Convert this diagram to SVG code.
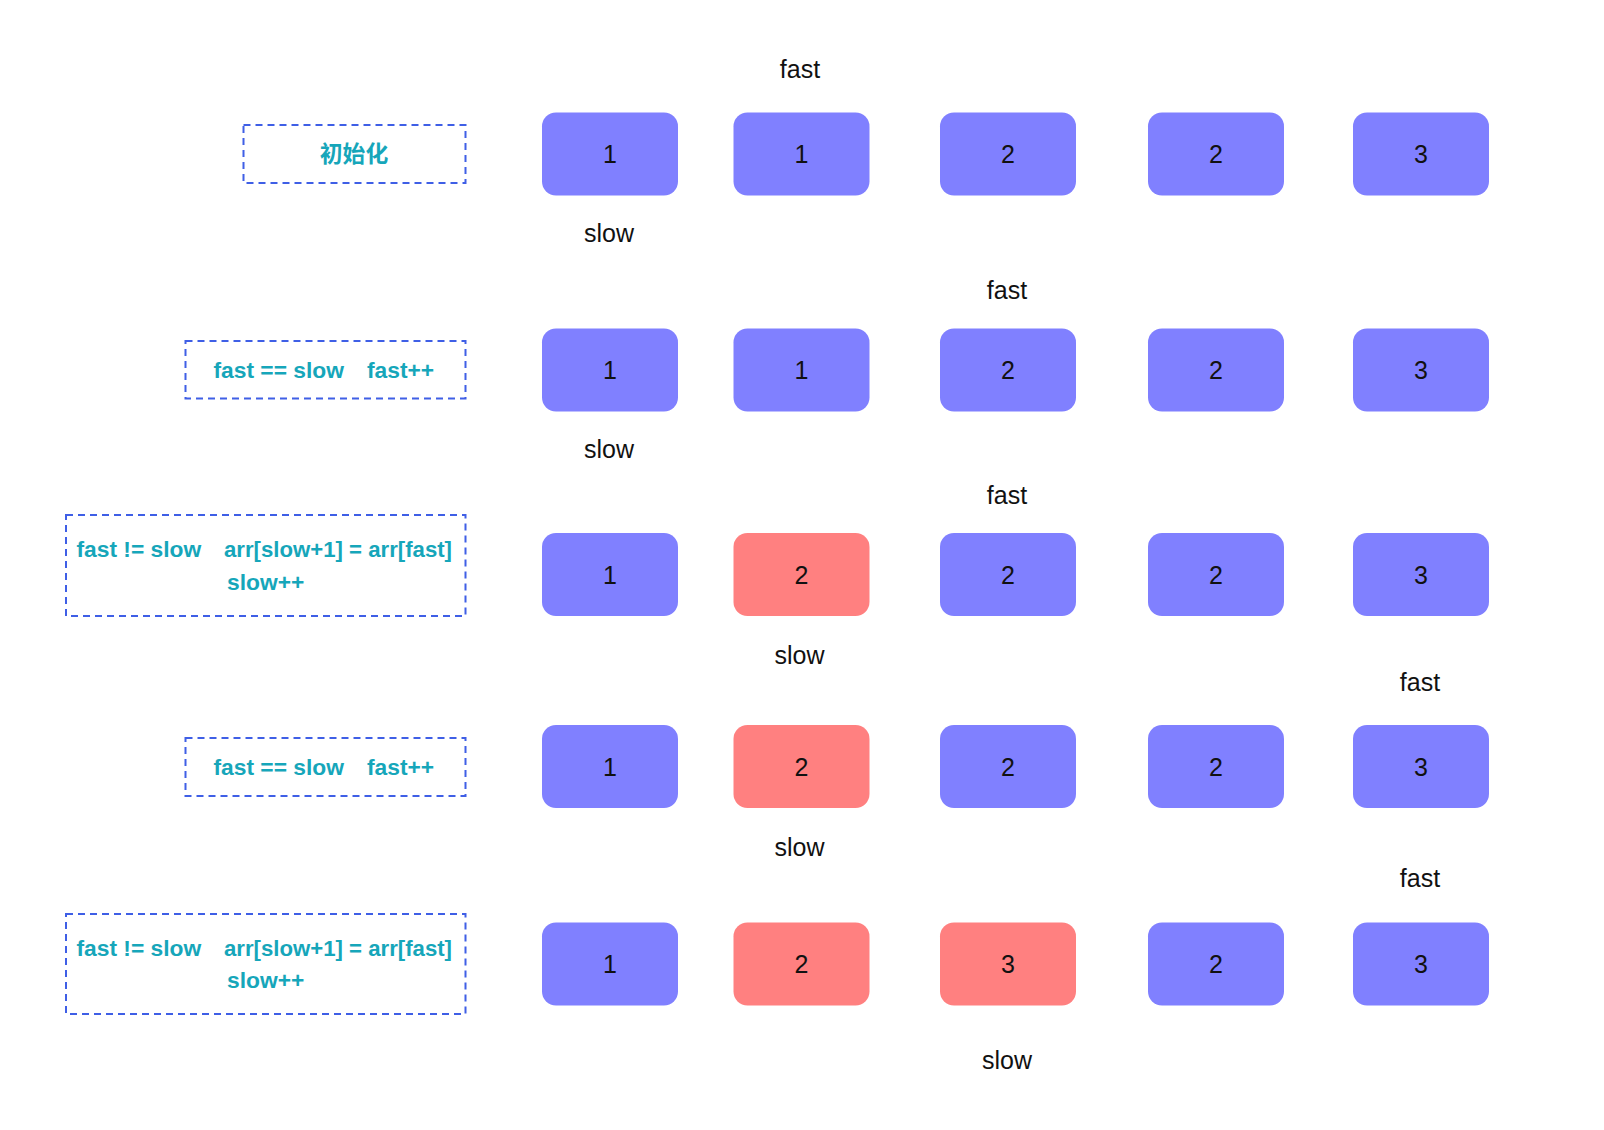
<svg xmlns="http://www.w3.org/2000/svg" width="1604" height="1130" viewBox="0 0 1604 1130">
<style>
.cell{stroke:none;}
.b{fill:#8080FF;}
.r{fill:#FF8080;}
.num{font-family:"Liberation Sans",Arial,sans-serif;font-size:25px;fill:#111;text-anchor:middle;dominant-baseline:central;}
.lbl{font-family:"Liberation Sans",Arial,sans-serif;font-size:25px;fill:#111;text-anchor:middle;dominant-baseline:central;}
.note{fill:none;stroke:#3F5FE6;stroke-width:2;stroke-dasharray:7 5;}
.nt{font-family:"Liberation Sans",Arial,"Noto Sans CJK SC",sans-serif;font-size:22.8px;font-weight:bold;fill:#16A6BA;dominant-baseline:central;white-space:pre;}
</style>
<defs>
<rect id="cell" width="136" height="83" rx="14" ry="14"/>
</defs>
<rect width="1604" height="1130" fill="#fff"/>
<g id="connectors"></g>

<!-- Row 1 -->
<g id="note1"><rect class="note" x="243.5" y="125" width="222" height="58"/><text class="nt" x="354" y="153.5" text-anchor="middle">初始化</text></g>
<g id="r1c1"><use href="#cell" class="b" x="542" y="112.5"/><text class="num" x="610" y="154">1</text></g>
<g id="r1c2"><use href="#cell" class="b" x="733.5" y="112.5"/><text class="num" x="801.5" y="154">1</text></g>
<g id="r1c3"><use href="#cell" class="b" x="940" y="112.5"/><text class="num" x="1008" y="154">2</text></g>
<g id="r1c4"><use href="#cell" class="b" x="1148" y="112.5"/><text class="num" x="1216" y="154">2</text></g>
<g id="r1c5"><use href="#cell" class="b" x="1353" y="112.5"/><text class="num" x="1421" y="154">3</text></g>
<g id="r1fast"><text class="lbl" x="800" y="68.5">fast</text></g>
<g id="r1slow"><text class="lbl" x="609" y="232.5">slow</text></g>

<!-- Row 2 -->
<g id="note2"><rect class="note" x="185.5" y="341" width="280" height="57.5"/><text class="nt" x="213.5" y="369.5">fast == slow</text><text class="nt" x="367" y="369.5">fast++</text></g>
<g id="r2c1"><use href="#cell" class="b" x="542" y="328.5"/><text class="num" x="610" y="370">1</text></g>
<g id="r2c2"><use href="#cell" class="b" x="733.5" y="328.5"/><text class="num" x="801.5" y="370">1</text></g>
<g id="r2c3"><use href="#cell" class="b" x="940" y="328.5"/><text class="num" x="1008" y="370">2</text></g>
<g id="r2c4"><use href="#cell" class="b" x="1148" y="328.5"/><text class="num" x="1216" y="370">2</text></g>
<g id="r2c5"><use href="#cell" class="b" x="1353" y="328.5"/><text class="num" x="1421" y="370">3</text></g>
<g id="r2fast"><text class="lbl" x="1007" y="289.5">fast</text></g>
<g id="r2slow"><text class="lbl" x="609" y="448.5">slow</text></g>

<!-- Row 3 -->
<g id="note3"><rect class="note" x="66" y="515" width="399.5" height="101"/><text class="nt" x="76.5" y="549">fast != slow</text><text class="nt" x="224" y="549" textLength="228" lengthAdjust="spacingAndGlyphs">arr[slow+1] = arr[fast]</text><text class="nt" x="227" y="581.5">slow++</text></g>
<g id="r3c1"><use href="#cell" class="b" x="542" y="533"/><text class="num" x="610" y="574.5">1</text></g>
<g id="r3c2"><use href="#cell" class="r" x="733.5" y="533"/><text class="num" x="801.5" y="574.5">2</text></g>
<g id="r3c3"><use href="#cell" class="b" x="940" y="533"/><text class="num" x="1008" y="574.5">2</text></g>
<g id="r3c4"><use href="#cell" class="b" x="1148" y="533"/><text class="num" x="1216" y="574.5">2</text></g>
<g id="r3c5"><use href="#cell" class="b" x="1353" y="533"/><text class="num" x="1421" y="574.5">3</text></g>
<g id="r3fast"><text class="lbl" x="1007" y="494.5">fast</text></g>
<g id="r3slow"><text class="lbl" x="799.5" y="655">slow</text></g>

<!-- Row 4 -->
<g id="note4"><rect class="note" x="185.5" y="738" width="280" height="58"/><text class="nt" x="213.5" y="766.5">fast == slow</text><text class="nt" x="367" y="766.5">fast++</text></g>
<g id="r4c1"><use href="#cell" class="b" x="542" y="725"/><text class="num" x="610" y="766.5">1</text></g>
<g id="r4c2"><use href="#cell" class="r" x="733.5" y="725"/><text class="num" x="801.5" y="766.5">2</text></g>
<g id="r4c3"><use href="#cell" class="b" x="940" y="725"/><text class="num" x="1008" y="766.5">2</text></g>
<g id="r4c4"><use href="#cell" class="b" x="1148" y="725"/><text class="num" x="1216" y="766.5">2</text></g>
<g id="r4c5"><use href="#cell" class="b" x="1353" y="725"/><text class="num" x="1421" y="766.5">3</text></g>
<g id="r4fast"><text class="lbl" x="1420" y="681.5">fast</text></g>
<g id="r4slow"><text class="lbl" x="799.5" y="847">slow</text></g>

<!-- Row 5 -->
<g id="note5"><rect class="note" x="66" y="914" width="399.5" height="100"/><text class="nt" x="76.5" y="947.5">fast != slow</text><text class="nt" x="224" y="947.5" textLength="228" lengthAdjust="spacingAndGlyphs">arr[slow+1] = arr[fast]</text><text class="nt" x="227" y="980">slow++</text></g>
<g id="r5c1"><use href="#cell" class="b" x="542" y="922.5"/><text class="num" x="610" y="964">1</text></g>
<g id="r5c2"><use href="#cell" class="r" x="733.5" y="922.5"/><text class="num" x="801.5" y="964">2</text></g>
<g id="r5c3"><use href="#cell" class="r" x="940" y="922.5"/><text class="num" x="1008" y="964">3</text></g>
<g id="r5c4"><use href="#cell" class="b" x="1148" y="922.5"/><text class="num" x="1216" y="964">2</text></g>
<g id="r5c5"><use href="#cell" class="b" x="1353" y="922.5"/><text class="num" x="1421" y="964">3</text></g>
<g id="r5fast"><text class="lbl" x="1420" y="878">fast</text></g>
<g id="r5slow"><text class="lbl" x="1007" y="1060">slow</text></g>
</svg>
